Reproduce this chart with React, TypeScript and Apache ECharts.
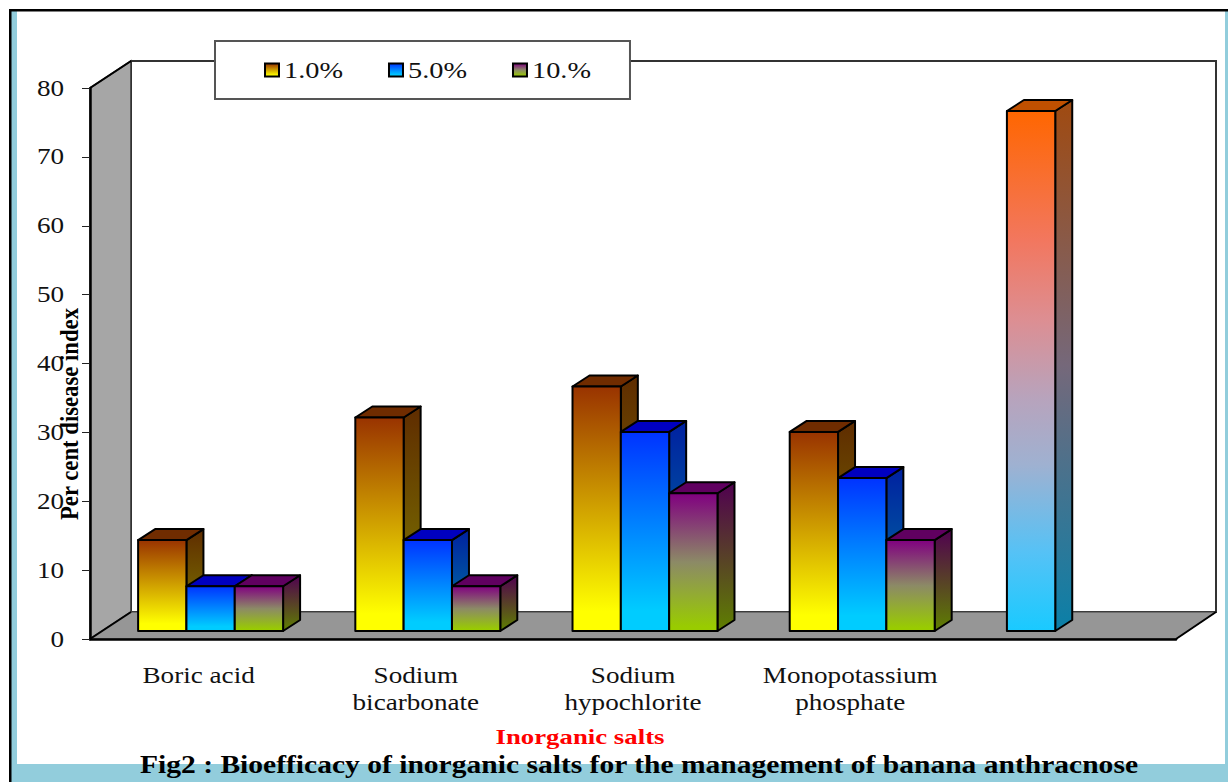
import React, { useEffect, useRef } from "react";
import * as echarts from "echarts";

const categories = ["Boric acid", "Sodium\nbicarbonate", "Sodium\nhypochlorite", "Monopotassium\nphosphate", ""];
const seriesNames = ["1.0%", "5.0%", "10.%"];
const values1 = [13.2, 31, 35.5, 28.9, 75.5];
const values5 = [6.5, 13.2, 28.9, 22.2];
const values10 = [6.5, 6.5, 20, 13.2];
const yTicks = { min: 0, max: 80, interval: 10 };
const yTitle = "Per cent disease index";
const xTitle = "Inorganic salts";
const figTitle = "Fig2 : Bioefficacy of inorganic salts for the management of banana anthracnose";

const FONT = "'Liberation Serif'";
const grad = (stops: [number, string][]) =>
  new echarts.graphic.LinearGradient(0, 0, 0, 1, stops.map(([offset, color]) => ({ offset, color })));

type Look = { front: any; side: any; top: string };
const looks: Look[] = [
  {
    front: () => grad([[0, "#993300"], [0.92, "#ffff00"], [1, "#ffff00"]]),
    side: () => grad([[0, "#5f2c00"], [1, "#808000"]]),
    top: "#702c00",
  },
  {
    front: () => grad([[0, "#0033ff"], [0.9, "#00ccff"], [1, "#00ccff"]]),
    side: () => grad([[0, "#0020a0"], [1, "#007fa0"]]),
    top: "#0000c0",
  },
  {
    front: () => grad([[0, "#800080"], [0.5, "#8c8a66"], [0.97, "#99cc00"], [1, "#99cc00"]]),
    side: () => grad([[0, "#500050"], [1, "#5f8000"]]),
    top: "#600060",
  },
];
const controlLook: Look = {
  front: () =>
    grad([
      [0, "#ff6600"],
      [0.25, "#f2775f"],
      [0.4, "#dd8e92"],
      [0.55, "#b8a3bc"],
      [0.68, "#9fb1d1"],
      [0.85, "#55c2f6"],
      [1, "#19caff"],
    ]),
  side: () => grad([[0, "#a04a10"], [0.5, "#75687a"], [1, "#0a80a8"]]),
  top: "#c05000",
};

const WALL_DX = 41;
const WALL_DY = 27;
const BAR_DX = 17;
const BAR_DY = 11;
const SHIFT_X = 12;
const SHIFT_Y = 8;
const BAR_RATIO = 0.2225;

const edge = { stroke: "#000", lineWidth: 2, lineJoin: "round" };

function barRenderer(seriesIndex: number) {
  return (params: any, api: any) => {
    const cat = api.value(0);
    const val = api.value(1);
    const [cx, yTop0] = api.coord([cat, val]);
    const [, yBase0] = api.coord([cat, 0]);
    const w = api.size([1, 0])[0] * BAR_RATIO;
    const x = cx + SHIFT_X + (seriesIndex - 1.5) * w;
    const yTop = yTop0 - SHIFT_Y;
    const yBase = yBase0 - SHIFT_Y;
    const look = seriesIndex === 0 && cat === 4 ? controlLook : looks[seriesIndex];
    return {
      type: "group",
      children: [
        {
          type: "polygon",
          shape: {
            points: [
              [x + w, yTop],
              [x + w + BAR_DX, yTop - BAR_DY],
              [x + w + BAR_DX, yBase - BAR_DY],
              [x + w, yBase],
            ],
          },
          style: { fill: look.side(), ...edge },
        },
        {
          type: "polygon",
          shape: {
            points: [
              [x, yTop],
              [x + BAR_DX, yTop - BAR_DY],
              [x + w + BAR_DX, yTop - BAR_DY],
              [x + w, yTop],
            ],
          },
          style: { fill: look.top, ...edge },
        },
        {
          type: "rect",
          shape: { x, y: yTop, width: w, height: yBase - yTop },
          style: { fill: look.front(), ...edge },
        },
      ],
    };
  };
}

function backdropRenderer(params: any) {
  const { x, y, width, height } = params.coordSys;
  const b = y + height;
  const r = x + width;
  return {
    type: "group",
    children: [
      {
        type: "polygon",
        shape: {
          points: [
            [x + WALL_DX, y - WALL_DY],
            [r + WALL_DX - 1, y - WALL_DY],
            [r + WALL_DX - 1, b - WALL_DY],
            [x + WALL_DX, b - WALL_DY],
          ],
        },
        style: { fill: "#fff", stroke: "#333", lineWidth: 2 },
      },
      {
        type: "polygon",
        shape: {
          points: [
            [x, b],
            [x, y],
            [x + WALL_DX, y - WALL_DY],
            [x + WALL_DX, b - WALL_DY],
          ],
        },
        style: { fill: "#a6a6a6", stroke: "#333", lineWidth: 1.5 },
      },
      {
        type: "polygon",
        shape: {
          points: [
            [x, b],
            [x + WALL_DX, b - WALL_DY],
            [r + WALL_DX - 1, b - WALL_DY],
            [r, b],
          ],
        },
        style: { fill: "#969696", stroke: "#444", lineWidth: 1 },
      },
      { type: "line", shape: { x1: x, y1: y, x2: x + WALL_DX, y2: y - WALL_DY }, style: { stroke: "#000", lineWidth: 2 } },
      { type: "line", shape: { x1: x, y1: b, x2: x + WALL_DX, y2: b - WALL_DY }, style: { stroke: "#000", lineWidth: 2 } },
      { type: "line", shape: { x1: r, y1: b, x2: r + WALL_DX - 1, y2: b - WALL_DY }, style: { stroke: "#000", lineWidth: 2 } },
    ],
  };
}

const stretchTargets: Record<string, number> = {
  [figTitle]: 998,
  [xTitle]: 169,
  [yTitle]: 212,
};
const DEFAULT_STRETCH = 1.18;

function stretchTexts(root: HTMLElement) {
  root.querySelectorAll("svg text").forEach((node) => {
    const el = node as SVGTextElement;
    const content = el.textContent || "";
    const len = el.getComputedTextLength();
    if (!len) return;
    const target = stretchTargets[content] ?? len * DEFAULT_STRETCH;
    el.setAttribute("textLength", String(target));
    el.setAttribute("lengthAdjust", "spacingAndGlyphs");
  });
}

function toPairs(vals: number[]) {
  return vals.map((v, i) => [i, v]);
}

export default function App() {
  const ref = useRef<HTMLDivElement>(null);
  useEffect(() => {
    document.body.style.margin = "0";
    const chart = echarts.init(ref.current!, undefined, { renderer: "svg" });
    const BLUE = "#92cddc";
    const option: any = {
      animation: false,
      backgroundColor: "#fff",
      title: {
        text: figTitle,
        left: 140,
        top: 752,
        padding: 0,
        textStyle: { fontFamily: FONT, fontWeight: "bold", fontSize: 25, color: "#000" },
      },
      legend: {
        data: seriesNames,
        left: 215,
        top: 41,
        orient: "horizontal",
        padding: [17, 48, 17, 49],
        itemGap: 54,
        itemWidth: 14,
        itemHeight: 13,
        icon: "rect",
        selectedMode: false,
        backgroundColor: "#fff",
        borderColor: "#555",
        borderWidth: 2,
        itemStyle: { borderColor: "#000", borderWidth: 2 },
        textStyle: { fontFamily: FONT, fontSize: 24, color: "#111", padding: [0, 0, 0, 0] },
      },
      graphic: [
        { type: "rect", silent: true, z: -1, shape: { x: 11, y: 11, width: 6, height: 771 }, style: { fill: BLUE } },
        { type: "rect", silent: true, z: -1, shape: { x: 11, y: 764, width: 1217, height: 18 }, style: { fill: BLUE } },
        { type: "rect", silent: true, z: -1, shape: { x: 1225, y: 11, width: 3, height: 771 }, style: { fill: BLUE } },
        { type: "rect", silent: true, z: -1, shape: { x: 9, y: 9, width: 1219, height: 2.5 }, style: { fill: "#000" } },
        { type: "rect", silent: true, z: -1, shape: { x: 9, y: 9, width: 2.5, height: 773 }, style: { fill: "#000" } },
        {
          type: "text",
          silent: true,
          z: 10,
          x: 69,
          y: 414,
          rotation: Math.PI / 2,
          style: {
            text: yTitle,
            fontFamily: FONT,
            fontWeight: "bold",
            fontSize: 25,
            fill: "#000",
            align: "center",
            verticalAlign: "middle",
          },
        },
      ],
      grid: { left: 90, right: 52, top: 88, bottom: 143, outerBoundsMode: "none" },
      xAxis: {
        type: "category",
        data: categories,
        z: 5,
        name: xTitle,
        nameLocation: "middle",
        nameGap: 86,
        nameTextStyle: {
          fontFamily: FONT,
          fontWeight: "bold",
          fontSize: 22,
          color: "#ff0000",
          padding: [0, 106, 0, 0],
        },
        axisLine: { lineStyle: { color: "#000", width: 2.5 } },
        axisTick: { length: 8, lineStyle: { color: "#222", width: 1 } },
        axisLabel: {
          interval: 0,
          margin: 23,
          fontFamily: FONT,
          fontSize: 23,
          lineHeight: 27,
          color: "#111",
        },
        splitLine: { show: false },
      },
      yAxis: {
        type: "value",
        ...yTicks,
        z: 5,
        axisLine: { show: true, lineStyle: { color: "#000", width: 2.5 } },
        axisTick: { show: true, length: 8, lineStyle: { color: "#222", width: 1 } },
        axisLabel: { margin: 26, fontFamily: FONT, fontSize: 23, color: "#111" },
        splitLine: { show: false },
      },
      series: [
        {
          type: "custom",
          name: "backdrop",
          silent: true,
          z: 1,
          clip: false,
          data: [[0, 0]],
          encode: { x: 0, y: 1 },
          renderItem: backdropRenderer,
        },
        ...[values1, values5, values10].map((vals, i) => ({
          type: "custom",
          name: seriesNames[i],
          z: 2,
          clip: false,
          silent: true,
          data: toPairs(vals),
          encode: { x: 0, y: 1 },
          itemStyle: { color: looks[i].front() },
          renderItem: barRenderer(i),
        })),
      ],
    };
    chart.setOption(option);
    stretchTexts(ref.current!);
    return () => chart.dispose();
  }, []);
  return <div ref={ref} style={{ position: "absolute", left: 0, top: 0, width: 1228, height: 782 }} />;
}
